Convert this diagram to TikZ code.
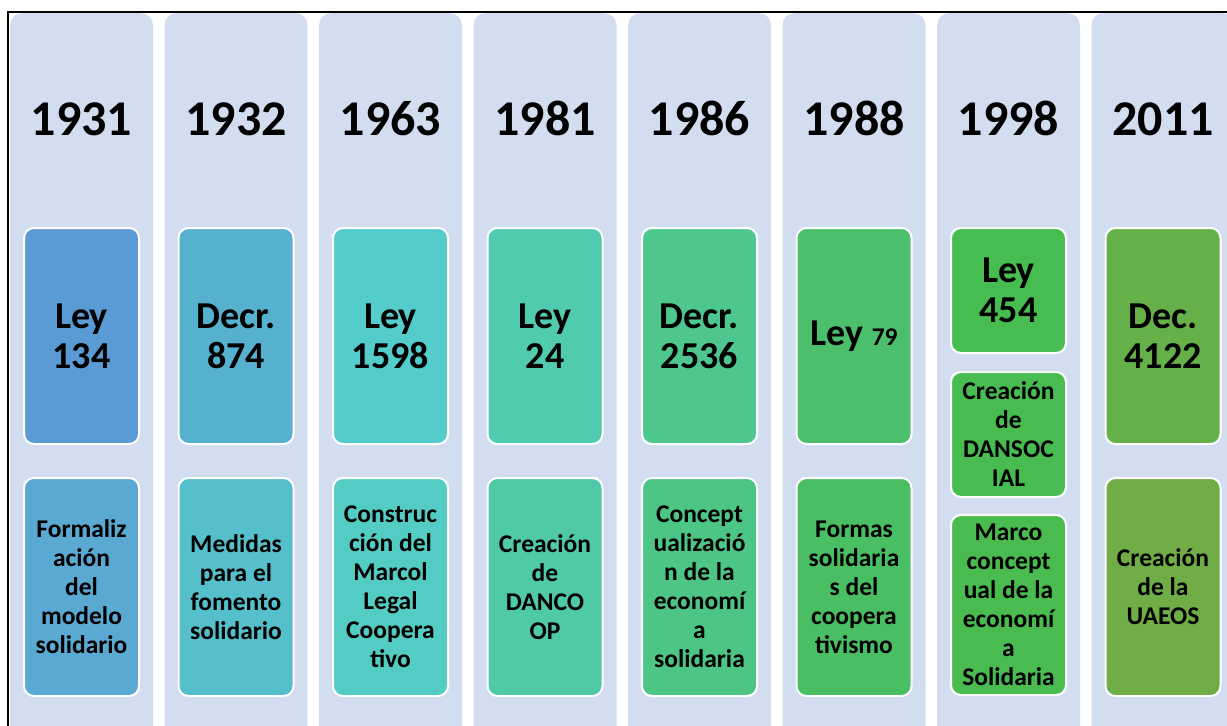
\documentclass[tikz,border=0pt]{standalone}
\usepackage{fontspec}
\setmainfont{Carlito}

\definecolor{fondo}{HTML}{D2DEEF}
\definecolor{top1}{HTML}{5B9BD5}
\definecolor{top2}{HTML}{56B1CF}
\definecolor{top3}{HTML}{54CCCC}
\definecolor{top4}{HTML}{50CBB0}
\definecolor{top5}{HTML}{4EC78E}
\definecolor{top6}{HTML}{4BBF6C}
\definecolor{top7}{HTML}{47BC50}
\definecolor{top8}{HTML}{66B049}
\definecolor{bot1}{HTML}{5AA9D3}
\definecolor{bot2}{HTML}{55BFCC}
\definecolor{bot3}{HTML}{53CDC4}
\definecolor{bot4}{HTML}{50C9A7}
\definecolor{bot5}{HTML}{4DC584}
\definecolor{bot6}{HTML}{49BE62}
\definecolor{bot7}{HTML}{4ABB4F}
\definecolor{bot8}{HTML}{70AD47}

\begin{document}
\begin{tikzpicture}[x=1pt, y=-1pt]
	\tikzstyle{every node}=[align=center, inner sep=0pt]
	\tikzstyle{banda}=[fill=fondo, rounded corners=12pt, minimum width=143pt, minimum height=760pt, anchor=north]
	\tikzstyle{anio}=[anchor=base, font=\fontsize{50}{55}\selectfont\bfseries]
	\tikzstyle{caja}=[draw=white, line width=2pt, rounded corners=10pt, minimum width=115pt]
	\tikzstyle{norma}=[caja, minimum height=216pt, font=\fontsize{38}{40}\selectfont\bfseries]
	\tikzstyle{hecho}=[caja, minimum height=218pt, font=\fontsize{25.5}{29}\selectfont\bfseries]

	\useasboundingbox (0,0) rectangle (1227,726);
	\clip (0,0) rectangle (1227,726);

	% columnas
	\node[banda] (col1) at (81.5, 13) {};
	\node[banda] (col2) at (236, 13) {};
	\node[banda] (col3) at (390.5, 13) {};
	\node[banda] (col4) at (545, 13) {};
	\node[banda] (col5) at (699.5, 13) {};
	\node[banda] (col6) at (854, 13) {};
	\node[banda] (col7) at (1008.5, 13) {};
	\node[banda] (col8) at (1163, 13) {};

	\draw[line width=1.2pt] (8, 12) rectangle (1260, 760);

	% años
	\node[anio] (yr1) at (81.5, 135) {1931};
	\node[anio] (yr2) at (236, 135) {1932};
	\node[anio] (yr3) at (390.5, 135) {1963};
	\node[anio] (yr4) at (545, 135) {1981};
	\node[anio] (yr5) at (699.5, 135) {1986};
	\node[anio] (yr6) at (854, 135) {1988};
	\node[anio] (yr7) at (1008.5, 135) {1998};
	\node[anio] (yr8) at (1163, 135) {2011};

	% normas
	\node[norma, fill=top1] (norma1) at (81.5, 336) {Ley\\134};
	\node[norma, fill=top2] (norma2) at (236, 336) {Decr.\\874};
	\node[norma, fill=top3] (norma3) at (390.5, 336) {Ley\\1598};
	\node[norma, fill=top4] (norma4) at (545, 336) {Ley\\24};
	\node[norma, fill=top5] (norma5) at (699.5, 336) {Decr.\\2536};
	\node[norma, fill=top6] (norma6) at (854, 336) {Ley {\fontsize{25.5}{29}\selectfont 79}};
	\node[norma, fill=top7, minimum height=125pt] (norma7) at (1008.5, 290.5) {Ley\\454};
	\node[norma, fill=top8] (norma8) at (1163, 336) {Dec.\\4122};

	% hechos
	\node[hecho, fill=bot1] (hecho1) at (81.5, 587) {Formaliz\\ación\\del\\modelo\\solidario};
	\node[hecho, fill=bot2] (hecho2) at (236, 587) {Medidas\\para el\\fomento\\solidario};
	\node[hecho, fill=bot3] (hecho3) at (390.5, 587) {Construc\\ción del\\Marcol\\Legal\\Coopera\\tivo};
	\node[hecho, fill=bot4] (hecho4) at (545, 587) {Creación\\de\\DANCO\\OP};
	\node[hecho, fill=bot5] (hecho5) at (699.5, 587) {Concept\\ualizació\\n de la\\economí\\a\\solidaria};
	\node[hecho, fill=bot6] (hecho6) at (854, 587) {Formas\\solidaria\\s del\\coopera\\tivismo};
	\node[hecho, fill=top7!80!bot7, minimum height=125pt] (hecho7a) at (1008.5, 434.5) {Creación\\de\\DANSOC\\IAL};
	\node[hecho, fill=bot7, minimum height=180pt] (hecho7b) at (1008.5, 605) {Marco\\concept\\ual de la\\economí\\a\\Solidaria};
	\node[hecho, fill=bot8] (hecho8) at (1163, 587) {Creación\\de la\\UAEOS};
\end{tikzpicture}
\end{document}
